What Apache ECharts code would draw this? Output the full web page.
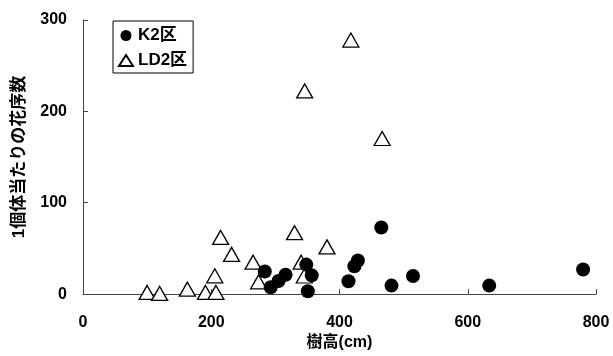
<!DOCTYPE html>
<html>
<head>
<meta charset="utf-8">
<script src="https://cdn.jsdelivr.net/npm/echarts@6/dist/echarts.min.js"></script>
<style>html,body{margin:0;padding:0;background:#fff;}#c{width:613px;height:356px;}</style>
</head>
<body>
<div id="c"></div>
<script>
const seriesNames = ['K2区', 'LD2区'];
const k2Height = [283.5, 292.7, 304.9, 315.9, 348.2, 350.6, 356.7, 414, 423.2, 428.7, 465.2, 481.1, 514.6, 633.5, 779.9];
const k2Count  = [24.8, 7.5, 14.4, 21.2, 32.3, 3.2, 20.5, 14, 30.5, 36.7, 72.9, 9.3, 19.8, 9.3, 27];
const ld2Height = [100, 119.5, 162.8, 190.9, 207.3, 205.5, 214.6, 231.7, 265.2, 273.8, 329.9, 340.2, 345.7, 345.1, 380.5, 417.7, 466.5];
const ld2Count  = [1.8, 0.7, 5.4, 1.8, 1.8, 20, 62, 43.5, 34.9, 13.3, 67.2, 34.9, 222.4, 19.8, 51.7, 278, 170.3];
const xTicks = [0, 200, 400, 600, 800];
const yTicks = [0, 100, 200, 300];
const xName = '樹高(cm)';
const yName = '1個体当たりの花序数';

const pair = (xs, ys) => xs.map((x, i) => [x, ys[i]]);
const FONT = '"Liberation Sans", "Noto Sans CJK JP", sans-serif';

const chart = echarts.init(document.getElementById('c'), null, {renderer: 'canvas'});
chart.setOption({
  animation: false,
  backgroundColor: '#fff',
  grid: {left: 83, top: 20, right: 17, bottom: 61, containLabel: false},
  legend: {
    data: [
      {name: seriesNames[0], icon: 'circle'},
      {name: seriesNames[1], icon: 'triangle'}
    ],
    orient: 'vertical',
    left: 113, top: 21,
    itemWidth: 14, itemHeight: 11,
    itemGap: 8,
    padding: [6, 6, 4, 5],
    borderColor: '#000', borderWidth: 1,
    textStyle: {fontFamily: FONT, fontWeight: 'bold', fontSize: 17, color: '#000'}
  },
  xAxis: {
    type: 'value', min: xTicks[0], max: xTicks[xTicks.length - 1], interval: 200,
    name: xName, nameLocation: 'middle', nameGap: 30,
    nameTextStyle: {fontFamily: FONT, fontWeight: 'bold', fontSize: 16, color: '#000'},
    axisLine: {show: true, onZero: false, lineStyle: {color: '#444', width: 1}},
    axisTick: {show: true, inside: true, length: 5, lineStyle: {color: '#444'}},
    axisLabel: {margin: 20, fontFamily: FONT, fontWeight: 'bold', fontSize: 16, color: '#000'},
    splitLine: {show: false}
  },
  yAxis: {
    type: 'value', min: yTicks[0], max: yTicks[yTicks.length - 1], interval: 100,
    name: yName, nameLocation: 'middle', nameGap: 55, nameRotate: 90,
    nameTextStyle: {fontFamily: FONT, fontWeight: 'bold', fontSize: 17, color: '#000'},
    axisLine: {show: true, onZero: false, lineStyle: {color: '#444', width: 1}},
    axisTick: {show: true, inside: true, length: 5, lineStyle: {color: '#444'}},
    axisLabel: {margin: 16, fontFamily: FONT, fontWeight: 'bold', fontSize: 16, color: '#000'},
    splitLine: {show: false}
  },
  series: [
    {
      name: seriesNames[1], type: 'scatter', symbol: 'triangle', symbolSize: [16, 14],
      itemStyle: {color: '#fff', borderColor: '#000', borderWidth: 1.3, opacity: 1},
      data: pair(ld2Height, ld2Count), z: 2
    },
    {
      name: seriesNames[0], type: 'scatter', symbol: 'circle', symbolSize: 14,
      itemStyle: {color: '#000', opacity: 1},
      data: pair(k2Height, k2Count), z: 3
    }
  ]
});
</script>
</body>
</html>
